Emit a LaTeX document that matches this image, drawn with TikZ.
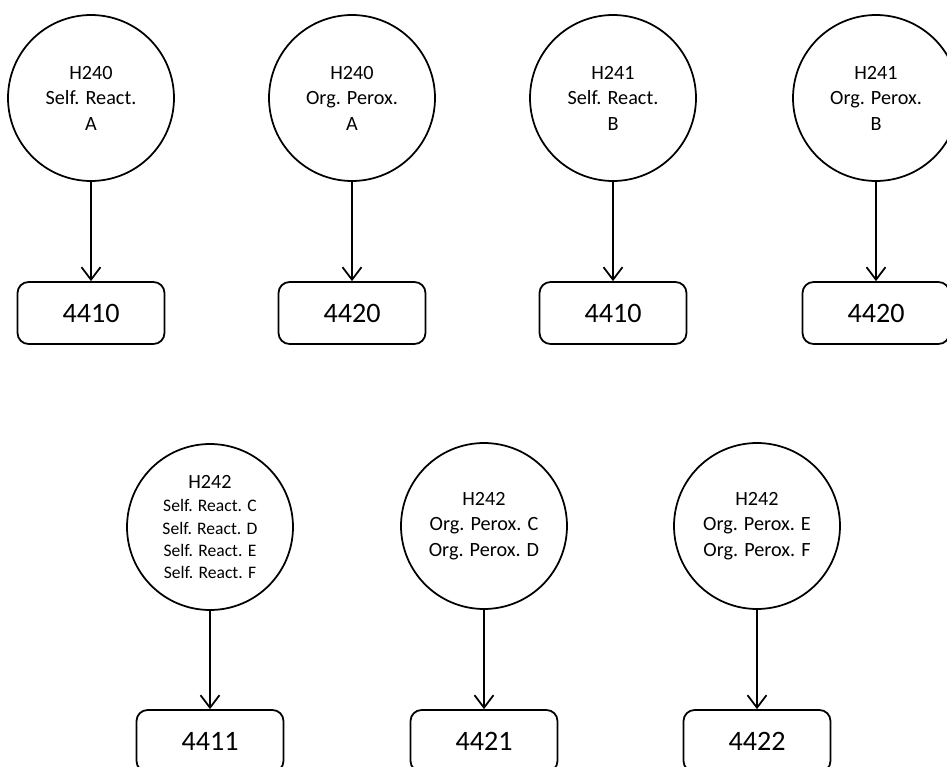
\documentclass[tikz,border=0pt]{standalone}
\usepackage{fontspec}
\setmainfont{Carlito}
\usetikzlibrary{arrows.meta}

\newcommand{\smalltxt}{\fontsize{10}{12}\selectfont}

\tikzset{
  hcode/.style={draw, circle, line width=1pt, minimum size=3.32cm, inner sep=0pt,
                align=center, font=\fontsize{11.5}{14.5}\selectfont},
  ucode/.style={draw, rounded corners=2.2mm, line width=1pt, minimum width=2.94cm,
                minimum height=1.24cm, font=\fontsize{16}{18}\selectfont},
  link/.style={-{Straight Barb[length=2.5mm,width=3.8mm]}, line width=1pt}
}

\begin{document}
\begin{tikzpicture}[x=0.02cm, y=-0.02cm]
  % 図の大きさ(947x767)
  \clip (0,0) rectangle (947,767);
  \useasboundingbox (0,0) rectangle (947,767);

  % 上の段(円4つと箱4つ)
  \foreach \i/\x/\t/\n in {1/91/{H240\\Self. React.\\A}/4410,
                           2/352/{H240\\Org. Perox.\\A}/4420,
                           3/613/{H241\\Self. React.\\B}/4410,
                           4/876/{H241\\Org. Perox.\\B}/4420}
  {
    \node[hcode] (h\i) at (\x,98) {\t};
    \node[ucode] (u\i) at (\x,313) {\n};
    \draw[link] (h\i) -- (u\i);
  }

  % 下の段(円3つと箱3つ)
  \node[hcode] (h5) at (210,527)
    {H242\\[-1.2pt]\smalltxt Self. React. C\\[-1.8pt]\smalltxt Self. React. D\\[-1.8pt]\smalltxt Self. React. E\\[-1.8pt]\smalltxt Self. React. F};
  \node[hcode] (h6) at (484,526) {H242\\Org. Perox. C\\Org. Perox. D};
  \node[hcode] (h7) at (757,526) {H242\\Org. Perox. E\\Org. Perox. F};

  \node[ucode] (u5) at (210,741) {4411};
  \node[ucode] (u6) at (484,741) {4421};
  \node[ucode] (u7) at (757,741) {4422};

  % 矢印
  \foreach \i in {5,6,7}
    \draw[link] (h\i) -- (u\i);
\end{tikzpicture}
\end{document}
